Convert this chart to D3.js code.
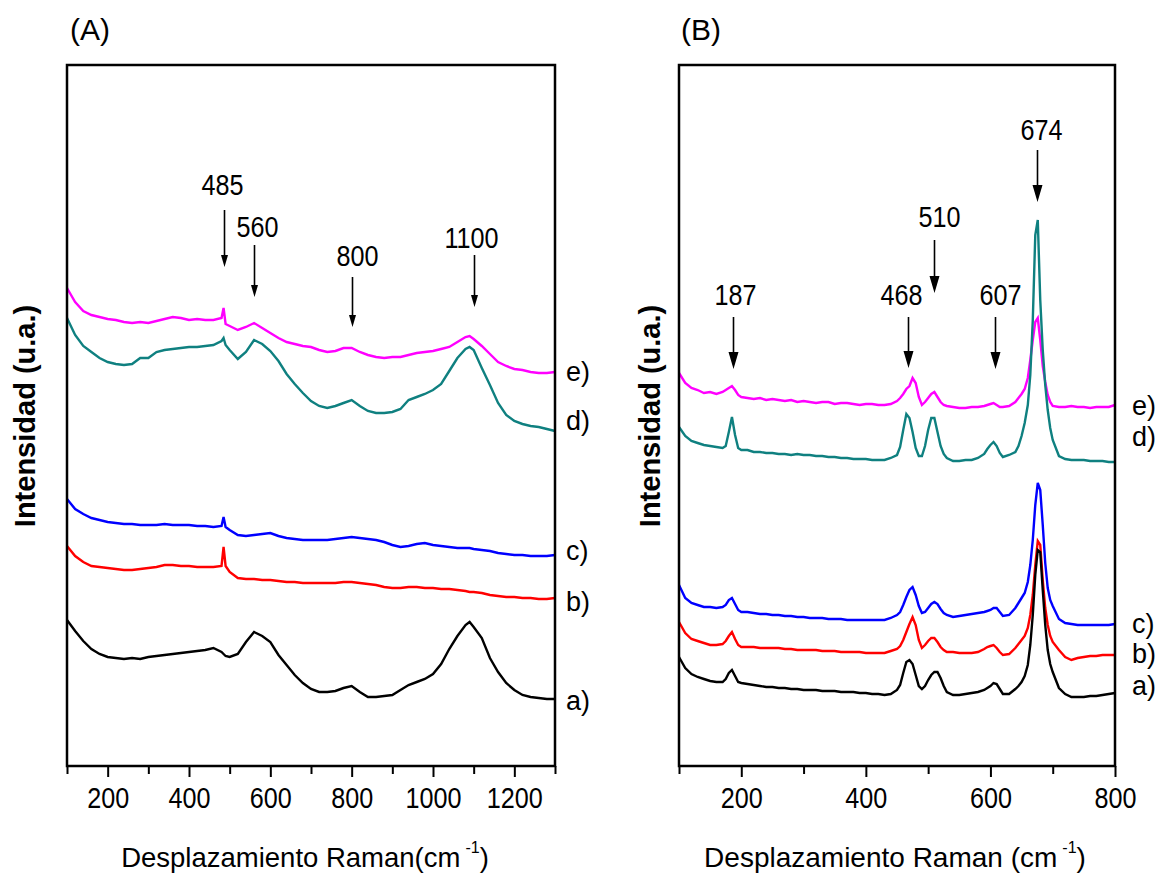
<!doctype html>
<html lang="es">
<head>
<meta charset="utf-8">
<title>Espectros Raman</title>
<style>
  body { margin: 0; background: #fff; }
  text { font-family: Arial, "Liberation Sans", sans-serif; fill: #000; }
</style>
</head>
<body>
<script src="https://cdn.jsdelivr.net/npm/d3@7/dist/d3.min.js"></script>
<script>

// ---- panel A: wavenumber grid (cm-1) and intensities (u.a.) ----
var xA = [100,120,140,160,180,200,220,240,260,280,300,320,340,360,380,400,420,440,460,480,
          485,490,
          500,520,540,560,580,600,620,640,660,680,700,720,740,760,780,800,820,840,860,880,
          900,920,940,960,980,1000,1020,1040,1060,1080,
          1090,
          1100,1120,1140,1160,1180,1200,1220,1240,1260,1280,1300];

var aA = [145,134,124,116,111,108,107,106,107,106,108,109,110,111,112,113,114,115,117,113,
          111,109,
          108,111,123,133,129,123,110,100,90,82,76,73,73,74,77,79,73,68,68,69,
          70,75,80,83,86,91,101,116,129,140,
          143,
          138,127,107,93,82,75,70,68,67,66,66];
var bA = [219,209,203,199,198,197,196,195,195,196,197,198,200,200,199,199,198,198,198,199,
          218,199,
          193,187,186,186,185,185,184,183,183,182,182,182,182,182,183,183,182,181,180,178,
          177,177,178,178,177,177,176,176,175,174,
          173,
          173,172,170,169,168,168,167,167,166,166,167];
var cA = [266,256,251,247,245,243,242,241,241,240,240,240,241,240,240,240,239,239,238,239,
          248,238,
          235,230,229,230,231,232,229,227,226,225,225,225,225,226,227,228,227,226,225,223,
          220,218,219,221,222,220,219,218,217,217,
          217,
          216,215,214,212,211,210,210,209,209,209,210];
var dA = [447,430,419,413,407,403,401,400,401,407,407,413,415,416,417,418,418,419,420,424,
          427,420,
          415,406,413,425,421,414,404,391,381,372,364,359,357,359,362,365,359,354,352,352,
          353,356,365,368,371,375,381,394,407,416,
          418,
          415,397,380,362,350,344,341,339,338,336,334];
var eA = [477,463,454,450,448,446,445,443,442,443,442,444,446,448,447,445,446,445,445,447,
          457,441,
          439,435,438,442,437,432,427,423,421,419,418,415,413,414,417,417,413,410,408,407,
          408,408,410,412,413,414,416,418,423,428,
          429,
          426,419,411,403,399,396,395,393,392,392,393];

// ---- panel B ----
var xB = [100,110,120,130,140,150,160,170,
          175,180,185,190,195,
          200,210,220,230,240,250,260,270,280,290,300,310,320,330,340,350,360,370,380,390,400,410,420,430,440,450,
          455,460,465,470,475,480,485,490,495,500,505,510,515,520,525,530,
          540,550,560,570,580,590,
          595,600,605,610,615,620,
          630,640,
          645,650,655,660,
          664,668,672,676,680,684,688,692,696,700,
          710,720,730,740,750,760,770,780,790,800];

var aB = [108,97,91,88,86,84,83,83,
          86,92,95,89,83,
          82,81,80,79,78,78,77,77,76,76,75,75,75,74,74,74,73,73,73,72,72,71,71,70,71,75,
          80,92,103,105,101,90,79,76,79,85,90,93,93,87,79,73,
          70,70,71,72,73,75,
          77,79,82,81,76,71,
          71,76,
          79,83,89,100,
          120,150,190,215,213,175,140,115,101,93,
          77,71,68,68,68,69,69,70,71,72];
var bB = [143,132,126,124,122,120,120,121,
          124,129,133,126,120,
          118,118,118,117,117,117,117,116,116,115,115,115,115,114,114,114,113,113,113,113,112,112,112,112,114,116,
          119,125,133,141,148,140,125,117,120,124,127,127,123,118,115,113,
          113,112,112,112,113,116,
          118,119,120,117,113,110,
          111,117,
          121,125,129,137,
          150,170,200,224,220,185,157,140,129,123,
          115,108,105,107,108,109,109,110,110,110];
var cB = [180,167,162,160,158,158,157,158,
          160,165,167,161,155,
          153,153,152,151,151,150,150,149,149,148,148,147,147,147,146,146,146,145,145,145,145,145,145,145,147,150,
          153,160,168,175,178,170,159,152,153,157,161,163,161,156,152,150,
          148,149,150,151,152,153,
          154,155,157,157,153,149,
          150,157,
          162,167,172,183,
          200,225,260,282,275,240,202,177,165,159,
          146,142,141,140,140,140,140,140,140,141];
var dB = [338,329,324,322,320,319,318,317,
          319,333,348,330,317,
          315,315,313,313,312,312,311,311,310,311,310,310,309,309,308,308,307,307,306,306,306,305,305,305,307,310,
          318,335,351,347,333,317,309,309,319,335,347,347,333,319,311,307,
          304,304,305,305,307,311,
          316,320,323,319,312,308,
          310,313,
          319,329,342,360,
          390,445,530,545,465,415,380,355,337,325,
          309,306,305,305,305,304,304,304,303,303];
var eB = [392,382,377,375,372,373,371,373,
          375,377,379,375,370,
          368,367,366,367,365,366,365,364,365,363,364,363,362,363,363,361,362,362,361,360,361,361,360,360,361,364,
          367,371,376,379,387,382,368,360,363,367,371,373,368,363,360,359,
          358,357,357,358,358,359,
          360,361,362,360,358,358,
          359,363,
          367,371,376,387,
          405,425,443,447,425,399,383,370,363,359,
          358,358,359,358,358,357,358,358,358,360];

var sampleNames = ["a)", "b)", "c)", "d)", "e)"];
var sampleColors = ["#000000", "#ff0000", "#0000ff", "#0f8080", "#ff00ff"];

var majorA = [200,400,600,800,1000,1200];
var minorA = [100,300,500,700,900,1100,1300];
var majorB = [200,400,600,800];
var minorB = [100,300,500,700];

var peaksA = [485,560,800,1100];
var peaksB = [187,468,510,607,674];


var svg = d3.select("body")
  .append("svg")
  .attr("width", 1157)
  .attr("height", 876);

var plotTop = 65, plotBottom = 766;

var y = d3.scaleLinear()
  .domain([0, 700])
  .range([765, 65]);

var panels = [
  {
    letter: "(A)", letterX: 70,
    x: d3.scaleLinear().domain([100, 1300]).range([67, 555]),
    xs: xA, series: [aA, bA, cA, dA, eA],
    major: majorA, minor: minorA,
    title: "Desplazamiento Raman(cm", titleX: 305, titleSize: 27.5,
    yTitleX: 25,
    labelX: 566, labelY: [710, 611, 560, 430, 381],
    peaks: peaksA,
    ann: [ {ty: 195, y0: 210, y1: 267, dx: -2},
           {ty: 237, y0: 245, y1: 297, dx: 3},
           {ty: 266, y0: 277, y1: 327, dx: 5},
           {ty: 248, y0: 255, y1: 307, dx: -3} ],
    head: [7, 12]
  },
  {
    letter: "(B)", letterX: 681,
    x: d3.scaleLinear().domain([100, 800]).range([679, 1115]),
    xs: xB, series: [aB, bB, cB, dB, eB],
    major: majorB, minor: minorB,
    title: "Desplazamiento Raman (cm", titleX: 895, titleSize: 28,
    yTitleX: 650,
    labelX: 1132, labelY: [695, 663, 633, 446, 415],
    peaks: peaksB,
    ann: [ {ty: 305, y0: 317, y1: 369, dx: 2},
           {ty: 305, y0: 317, y1: 368, dx: -7},
           {ty: 227, y0: 240, y1: 293, dx: 5},
           {ty: 305, y0: 317, y1: 369, dx: 5},
           {ty: 140, y0: 150, y1: 202, dx: 4} ],
    head: [10, 17]
  }
];

panels.forEach(function(p) {
  var x = p.x;
  var g = svg.append("g");

  // spectra, e drawn first, a on top
  var line = d3.line()
    .x(function(d, i) { return x(p.xs[i]); })
    .y(function(d) { return y(d); });

  for (var s = 4; s >= 0; s--) {
    g.append("path")
      .datum(p.series[s])
      .attr("d", line)
      .attr("fill", "none")
      .attr("stroke", sampleColors[s])
      .attr("stroke-width", 2.4)
      .attr("stroke-linejoin", "miter");
  }

  // frame
  g.append("rect")
    .attr("x", x.range()[0])
    .attr("y", plotTop)
    .attr("width", x.range()[1] - x.range()[0])
    .attr("height", plotBottom - plotTop)
    .attr("fill", "none")
    .attr("stroke", "#000")
    .attr("stroke-width", 2.5);

  // ticks
  var minorAxis = g.append("g")
    .attr("transform", "translate(0," + plotBottom + ")")
    .call(d3.axisBottom(x).tickValues(p.minor).tickSize(8).tickFormat(""));
  var majorAxis = g.append("g")
    .attr("transform", "translate(0," + plotBottom + ")")
    .call(d3.axisBottom(x).tickValues(p.major).tickSize(11).tickPadding(10).tickFormat(d3.format("d")));
  [minorAxis, majorAxis].forEach(function(ax) {
    ax.select(".domain").remove();
    ax.selectAll("line").attr("stroke", "#000").attr("stroke-width", 2);
  });
  majorAxis.selectAll("text")
    .attr("font-size", 30)
    .attr("font-family", "Arial, 'Liberation Sans', sans-serif")
    .attr("fill", "#000")
    .attr("y", 42)
    .attr("dy", 0)
    .attr("transform", "scale(0.84,1)");

  // x title
  var t = g.append("text")
    .attr("x", p.titleX)
    .attr("y", 867)
    .attr("text-anchor", "middle")
    .attr("font-size", p.titleSize);
  t.append("tspan").text(p.title);
  t.append("tspan").attr("font-size", 16).attr("dx", 5).attr("dy", -14).text("-1");
  t.append("tspan").attr("dy", 14).text(")");

  // y title
  g.append("text")
    .attr("transform", "translate(" + (p.yTitleX + 10) + ",416) rotate(-90)")
    .attr("text-anchor", "middle")
    .attr("font-size", 29)
    .attr("font-weight", "bold")
    .text("Intensidad (u.a.)");

  // panel letter
  g.append("text")
    .attr("x", p.letterX)
    .attr("y", 40)
    .attr("font-size", 30)
    .text(p.letter);

  // sample labels
  sampleNames.forEach(function(n, i) {
    g.append("text")
      .attr("x", p.labelX)
      .attr("y", p.labelY[i])
      .attr("font-size", 27)
      .text(n);
  });

  // peak arrows
  p.peaks.forEach(function(pk, i) {
    var a = p.ann[i];
    var px = Math.round(x(pk)) + 0.5;
    g.append("text")
      .attr("transform", "translate(" + (px + a.dx) + "," + a.ty + ") scale(0.84,1)")
      .attr("text-anchor", "middle")
      .attr("font-size", 30)
      .text(pk);
    g.append("line")
      .attr("x1", px).attr("x2", px)
      .attr("y1", a.y0).attr("y2", a.y1 - p.head[1] + 2)
      .attr("stroke", "#000")
      .attr("stroke-width", 1.6);
    g.append("path")
      .attr("d", "M" + (px - p.head[0] / 2) + "," + (a.y1 - p.head[1]) +
                 "L" + (px + p.head[0] / 2) + "," + (a.y1 - p.head[1]) +
                 "L" + px + "," + a.y1 + "Z")
      .attr("fill", "#000");
  });
});

</script>
</body>
</html>
